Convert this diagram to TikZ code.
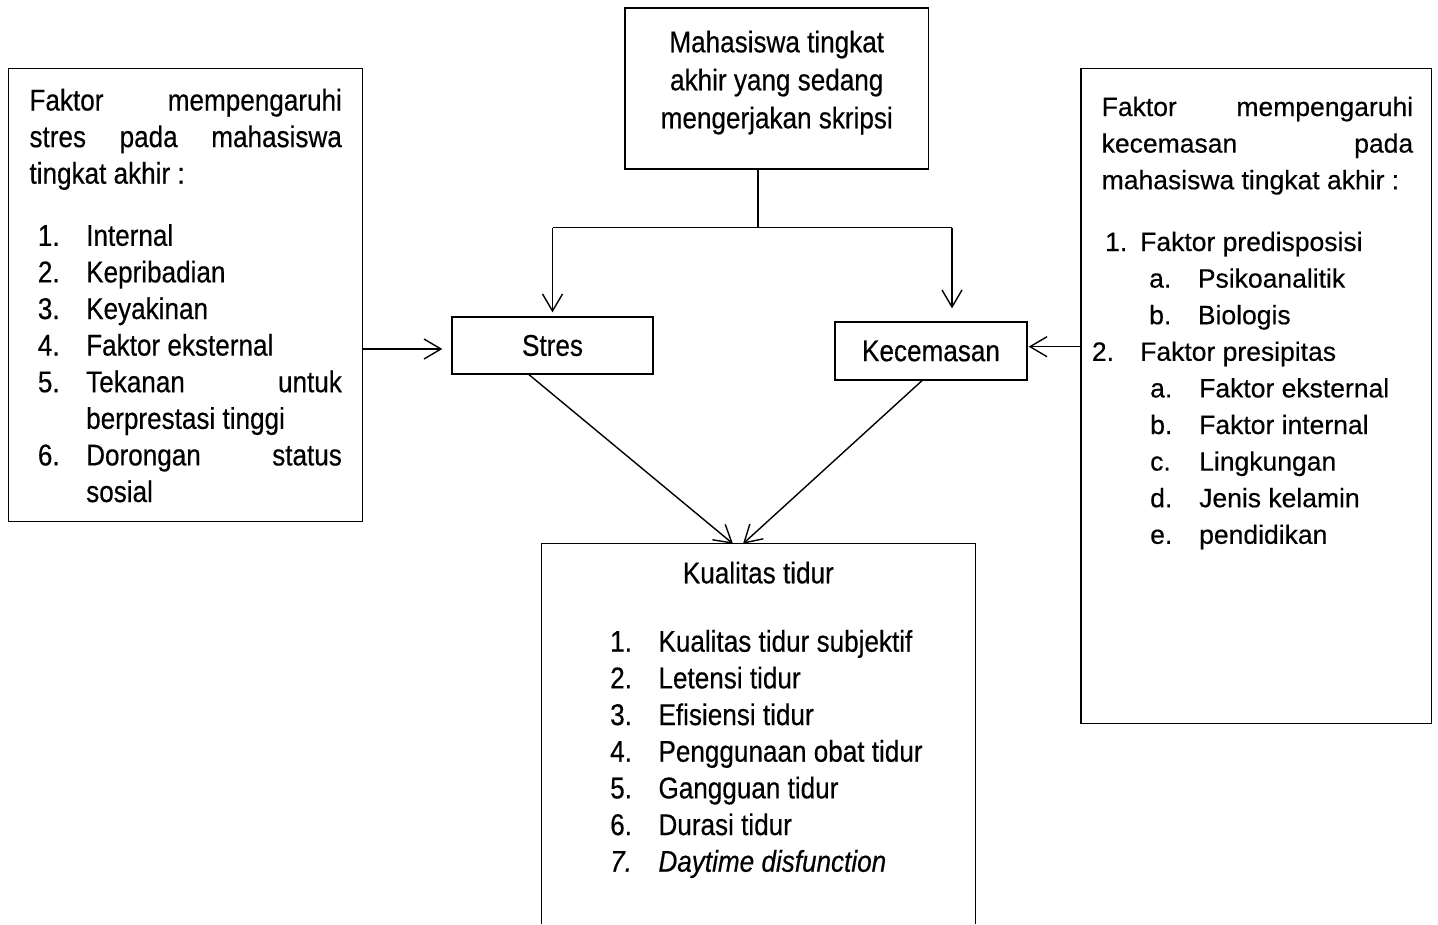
\documentclass[tikz,border=0pt]{standalone}
\usepackage{fontspec}
\setmainfont[FakeBold=0.4]{Liberation Sans}
\newfontfamily\nfont[FakeStretch=0.87,FakeBold=0.4]{Liberation Sans}
\usetikzlibrary{arrows.meta}
\begin{document}
\begin{tikzpicture}[x=1pt,y=-1pt,
  box/.style={draw, line width=1.3pt, inner sep=0pt, rectangle},
  frame/.style={inner sep=0pt, rectangle},
  txt/.style={inner sep=0pt, anchor=base west},
  ctxt/.style={inner sep=0pt, anchor=base},
  nf/.style={font=\nfont\fontsize{30}{36}\selectfont},
  arr/.style={line width=1.4pt, -{Straight Barb[length=17pt,width=20pt]}},
  ln/.style={line width=1.4pt}]
\useasboundingbox (0,0) rectangle (1438,924);

% boxes
\node[box, minimum width=354.4pt, minimum height=453.4pt] (left) at (185.5,295) {};
\node[box, minimum width=303.5pt, minimum height=161pt] (top) at (776.75,88.5) {};
\node[box, minimum width=350.7pt, minimum height=655pt] (right) at (1256.35,395.8) {};
\node[box, nf, minimum width=201pt, minimum height=57pt] (stres) at (552.5,345.5) {Stres};
\node[box, nf, minimum width=192pt, minimum height=58pt] (kec) at (931,351) {Kecemasan};
\node[frame, minimum width=433.3pt, minimum height=380pt] (kual) at (758.35,734) {};
\draw[box] (kual.south west) -- (kual.north west) -- (kual.north east) -- (kual.south east);

% texts
\node[ctxt] (toptext) at (776.75,52.3) {\parbox[t]{300pt}{\centering\nfont\fontsize{30}{38}\selectfont
Mahasiswa tingkat\\ akhir yang sedang\\ mengerjakan skripsi}};

\node[txt] (lefttext) at (29.3,110.5) {\parbox[t]{312.4pt}{\nfont\fontsize{30}{36.6}\selectfont
\makebox[\linewidth][s]{Faktor mempengaruhi}\\
\makebox[\linewidth][s]{stres pada mahasiswa}\\
tingkat akhir :\\[25.5pt]
\hspace*{8.4pt}\makebox[48.3pt][l]{1.}Internal\\
\hspace*{8.4pt}\makebox[48.3pt][l]{2.}Kepribadian\\
\hspace*{8.4pt}\makebox[48.3pt][l]{3.}Keyakinan\\
\hspace*{8.4pt}\makebox[48.3pt][l]{4.}Faktor eksternal\\
\hspace*{8.4pt}\makebox[48.3pt][l]{5.}\makebox[255.7pt][s]{Tekanan untuk}\\
\hspace*{56.7pt}berprestasi tinggi\\
\hspace*{8.4pt}\makebox[48.3pt][l]{6.}\makebox[255.7pt][s]{Dorongan status}\\
\hspace*{56.7pt}sosial}};

\node[txt] (righttext) at (1101.5,116) {\parbox[t]{311.5pt}{\fontsize{26.5}{36.6}\selectfont
\makebox[\linewidth][s]{Faktor mempengaruhi}\\
\makebox[\linewidth][s]{kecemasan pada}\\
mahasiswa tingkat akhir :\\[25.2pt]
\hspace*{3.5pt}\makebox[35pt][l]{1.}Faktor predisposisi\\
\hspace*{47.5pt}\makebox[48.7pt][l]{a.}Psikoanalitik\\
\hspace*{47.5pt}\makebox[48.7pt][l]{b.}Biologis\\
\hspace*{-9.8pt}\makebox[48.3pt][l]{2.}Faktor presipitas\\
\hspace*{48.5pt}\makebox[49pt][l]{a.}Faktor eksternal\\
\hspace*{48.5pt}\makebox[49pt][l]{b.}Faktor internal\\
\hspace*{48.5pt}\makebox[49pt][l]{c.}Lingkungan\\
\hspace*{48.5pt}\makebox[49pt][l]{d.}Jenis kelamin\\
\hspace*{48.5pt}\makebox[49pt][l]{e.}pendidikan}};

\node[ctxt, nf] (kualtitle) at (758.35,583.3) {Kualitas tidur};
\node[txt] (kuallist) at (610,651.7) {\parbox[t]{340pt}{\nfont\fontsize{30}{36.67}\selectfont
\makebox[48.3pt][l]{1.}Kualitas tidur subjektif\\
\makebox[48.3pt][l]{2.}Letensi tidur\\
\makebox[48.3pt][l]{3.}Efisiensi tidur\\
\makebox[48.3pt][l]{4.}Penggunaan obat tidur\\
\makebox[48.3pt][l]{5.}Gangguan tidur\\
\makebox[48.3pt][l]{6.}Durasi tidur\\
\makebox[48.3pt][l]{\itshape 7.}\textit{Daytime disfunction}}};

% connectors
\coordinate (split) at (758,227.7);
\coordinate (jl) at (552.5,227.7);
\coordinate (jr) at (952,227.7);
\draw[ln] (split |- top.south) -- (split);
\draw[ln] (jl) -- (jr);
\draw[arr, shorten >=4pt] (jl) -- (jl |- stres.north);
\draw[arr, shorten >=13pt] (jr) -- (jr |- kec.north);
\coordinate (la) at ([yshift=-3.5pt]stres.west);
\draw[arr, shorten >=9pt] (left.east |- la) -- (la);
\coordinate (ra) at ([yshift=4.3pt]kec.east);
\draw[arr, shorten >=1pt] (right.west |- ra) -- (ra);
\draw[arr] ([xshift=-23.5pt]stres.south) -- ([xshift=-25.35pt]kual.north);
\draw[arr] ([xshift=-9pt]kec.south) -- ([xshift=-15.35pt]kual.north);
\end{tikzpicture}
\end{document}
